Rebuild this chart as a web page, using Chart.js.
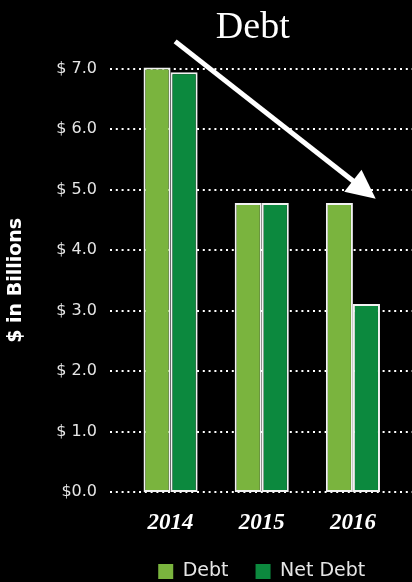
<!DOCTYPE html>
<html lang="en">
<head>
    <meta charset="UTF-8">
    <title>Debt</title>
    <script src="https://cdn.jsdelivr.net/npm/chart.js"></script>
    <style>
        html, body { margin: 0; padding: 0; background: #000; }
        #wrap { position: relative; width: 412px; height: 582px; }
    </style>
</head>
<body>
    <div id="wrap">
        <canvas id="debtChart" width="412" height="582"></canvas>
    </div>

    <script>
        // dati (miliardi di $)
        const years = ['2014', '2015', '2016'];
        const debt = [7.02, 4.78, 4.78];
        const netDebt = [6.94, 4.78, 3.11];
        const tickLabels = ['$0.0', '$ 1.0', '$ 2.0', '$ 3.0', '$ 4.0', '$ 5.0', '$ 6.0', '$ 7.0'];

        // freccia: inizio e punta in coordinate dei dati (indice anno, valore)
        const arrowFrom = [0.05, 7.45];
        const arrowTo = [2.25, 4.85];

        // linee della griglia tratteggiate, da un po' prima dell'asse fino al bordo
        const dottedGrid = {
            id: 'dottedGrid',
            beforeDatasetsDraw(chart) {
                const ctx = chart.ctx;
                const y = chart.scales.y;
                ctx.save();
                ctx.strokeStyle = '#ffffff';
                ctx.lineWidth = 2;
                ctx.setLineDash([2, 3.8]);
                y.ticks.forEach(t => {
                    const py = Math.round(y.getPixelForValue(t.value));
                    ctx.beginPath();
                    ctx.moveTo(110, py);
                    ctx.lineTo(chart.width, py);
                    ctx.stroke();
                });
                ctx.restore();
            }
        };

        // il titolo nell'originale e' un po' a sinistra del centro dell'area
        const shiftTitle = {
            id: 'shiftTitle',
            afterLayout(chart) {
                const t = chart.titleBlock;
                if (t) { t.left -= 18; t.right -= 0; }
            }
        };

        const arrow = {
            id: 'arrow',
            afterDraw(chart) {
                const ctx = chart.ctx;
                const xs = chart.scales.x, ys = chart.scales.y;
                const x1 = xs.getPixelForValue(arrowFrom[0]), y1 = ys.getPixelForValue(arrowFrom[1]);
                const x2 = xs.getPixelForValue(arrowTo[0]), y2 = ys.getPixelForValue(arrowTo[1]);
                const ang = Math.atan2(y2 - y1, x2 - x1);
                const headLen = 29, headW = 14;
                const bx = x2 - headLen * Math.cos(ang), by = y2 - headLen * Math.sin(ang);
                ctx.save();
                ctx.strokeStyle = '#ffffff';
                ctx.fillStyle = '#ffffff';
                ctx.lineWidth = 5;
                ctx.beginPath();
                ctx.moveTo(x1, y1);
                ctx.lineTo(bx + 2 * Math.cos(ang), by + 2 * Math.sin(ang));
                ctx.stroke();
                ctx.beginPath();
                ctx.moveTo(x2, y2);
                ctx.lineTo(bx + headW * Math.sin(ang), by - headW * Math.cos(ang));
                ctx.lineTo(bx - headW * Math.sin(ang), by + headW * Math.cos(ang));
                ctx.closePath();
                ctx.fill();
                ctx.restore();
            }
        };

        const ctx = document.getElementById('debtChart').getContext('2d');
        const debtChart = new Chart(ctx, {
            type: 'bar',
            data: {
                labels: years,
                datasets: [{
                    label: 'Debt',
                    data: debt,
                    backgroundColor: '#7ab43e',
                    borderColor: '#f2f2f2',
                    borderWidth: 2,
                    borderSkipped: false,
                    clip: false
                }, {
                    label: 'Net Debt',
                    data: netDebt,
                    backgroundColor: '#0c893e',
                    borderColor: '#f2f2f2',
                    borderWidth: 2,
                    borderSkipped: false,
                    clip: false
                }]
            },
            options: {
                responsive: false,
                animation: false,
                layout: { padding: { right: 13.5 } },
                datasets: {
                    bar: { categoryPercentage: 54 / 91, barPercentage: 1.0 }
                },
                scales: {
                    x: {
                        afterFit(scale) { scale.height = 43; },
                        grid: { display: false, drawTicks: false },
                        border: { display: false },
                        ticks: {
                            color: '#ffffff',
                            padding: 17,
                            font: { family: 'Liberation Serif', size: 23, style: 'italic', weight: 'bold' }
                        }
                    },
                    y: {
                        min: 0,
                        max: 7,
                        afterFit(scale) { scale.width = 125; },
                        grid: { display: false, drawTicks: false },
                        border: { display: false },
                        ticks: {
                            stepSize: 1,
                            color: '#e6e6e6',
                            padding: 28,
                            font: { family: 'DejaVu Sans', size: 16 },
                            callback: (v) => tickLabels[v]
                        },
                        title: {
                            display: true,
                            text: '$ in Billions',
                            color: '#ffffff',
                            padding: { top: 5, bottom: 0 },
                            font: { family: 'DejaVu Sans', size: 19, weight: 'bold' }
                        }
                    }
                },
                plugins: {
                    title: {
                        display: true,
                        text: 'Debt',
                        fullSize: false,
                        color: '#ffffff',
                        padding: { top: 5, bottom: 18 },
                        font: { family: 'Liberation Serif', size: 38, weight: 'normal' }
                    },
                    legend: {
                        position: 'bottom',
                        fullSize: false,
                        maxHeight: 47,
                        labels: {
                            color: '#e6e6e6',
                            boxWidth: 15,
                            boxHeight: 15,
                            padding: 27,
                            font: { family: 'DejaVu Sans', size: 19 },
                            generateLabels(chart) {
                                const items = Chart.defaults.plugins.legend.labels.generateLabels(chart);
                                items.forEach(it => { it.lineWidth = 0; it.strokeStyle = 'rgba(0,0,0,0)'; });
                                return items;
                            }
                        }
                    },
                    tooltip: { enabled: false }
                }
            },
            plugins: [dottedGrid, shiftTitle, arrow]
        });
    </script>
</body>
</html>
